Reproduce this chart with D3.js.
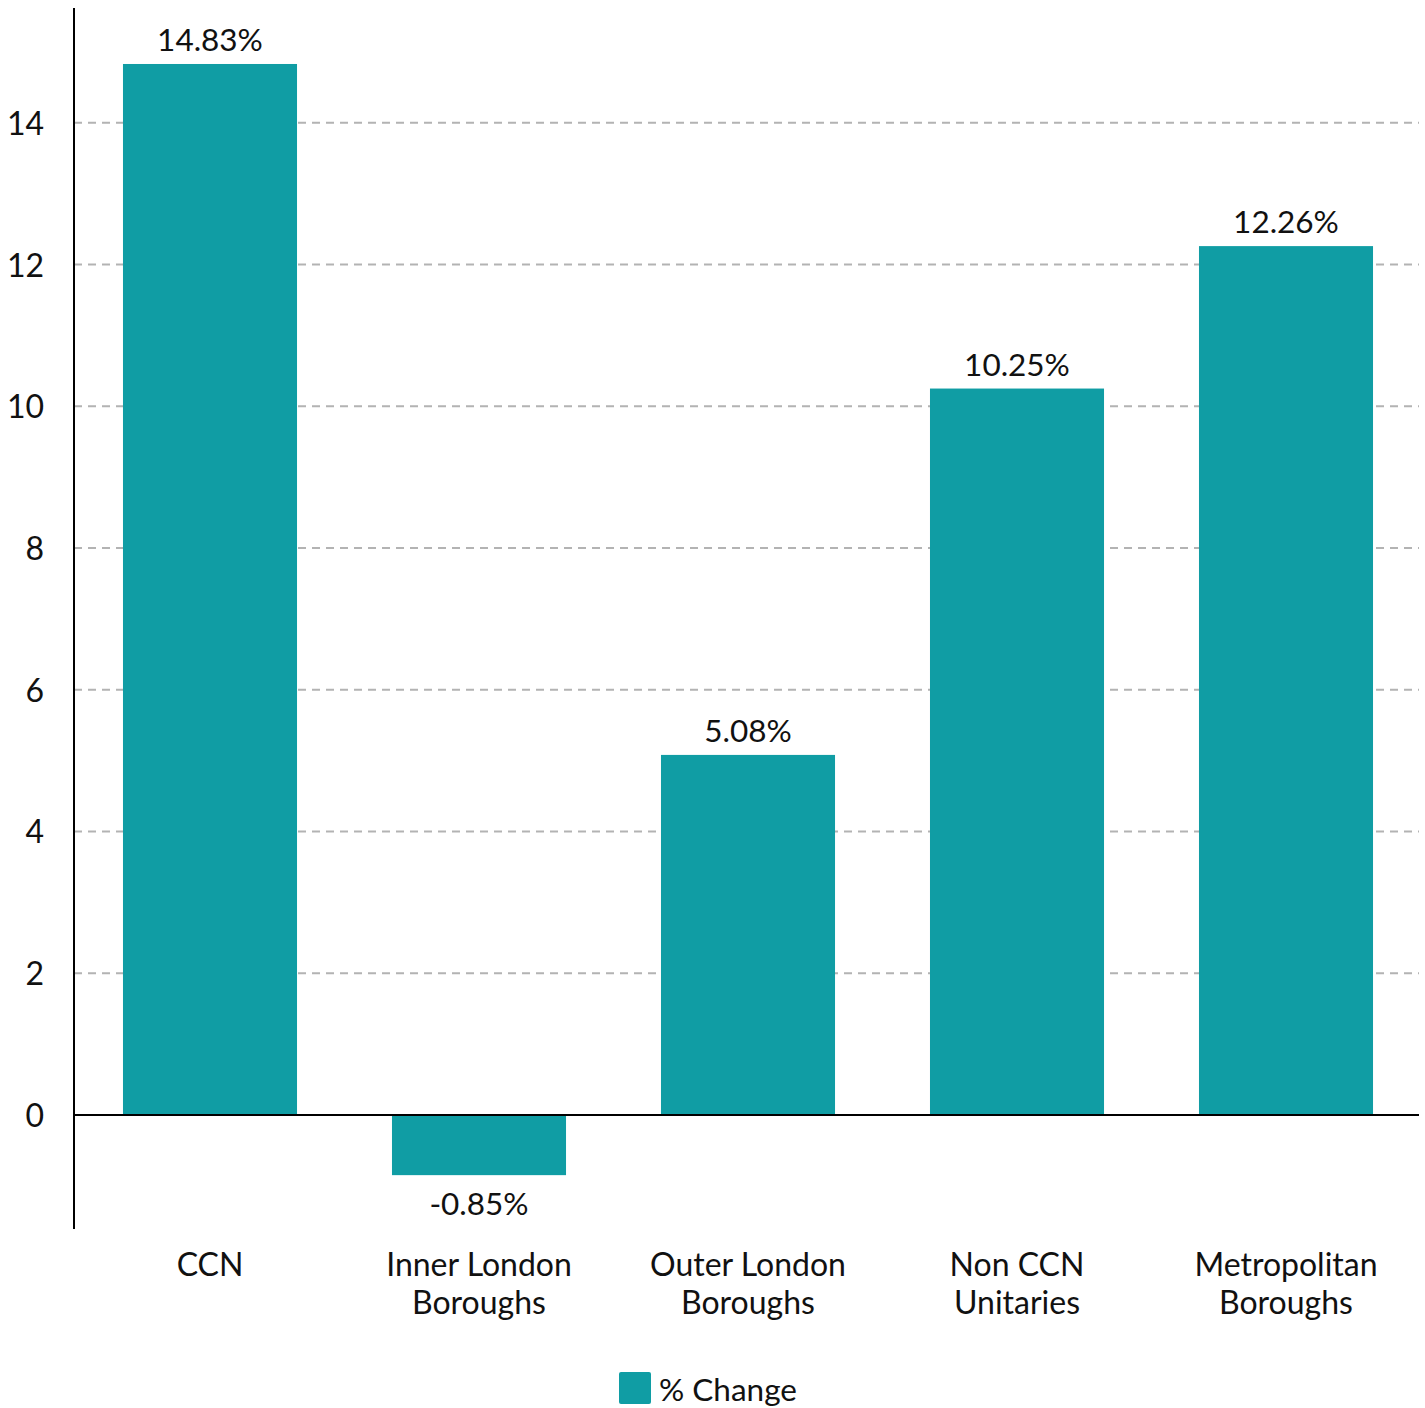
<!DOCTYPE html>
<html>
<head>
<meta charset="utf-8">
<script src="https://cdn.jsdelivr.net/npm/d3@7"></script>
<style>
  html, body { margin: 0; padding: 0; background: #fff; }
  svg { display: block; font-family: Lato, "Open Sans", sans-serif; }
</style>
</head>
<body>
<svg id="chart" width="1425" height="1408"></svg>
<script>
// Percentage change by authority type
const categories = [
  ["CCN"],
  ["Inner London", "Boroughs"],
  ["Outer London", "Boroughs"],
  ["Non CCN", "Unitaries"],
  ["Metropolitan", "Boroughs"]
];
const values = [14.83, -0.85, 5.08, 10.25, 12.26];
const yTicks = [0, 2, 4, 6, 8, 10, 12, 14];
const seriesName = "% Change";

const color = "#109da4";
const svg = d3.select("#chart");

const plotLeft = 74, plotRight = 1419, plotTop = 8, plotBottom = 1229;

const x = d3.scaleBand()
  .domain(d3.range(categories.length))
  .range([plotLeft + 1.5, plotRight + 1.5])
  .paddingInner(0.353)
  .paddingOuter(0.1765);

const y = d3.scaleLinear()
  .domain([-1.61, 15.62])
  .range([plotBottom, plotTop]);

// dashed gridlines
svg.append("g")
  .selectAll("line")
  .data(yTicks.filter(d => d !== 0))
  .join("line")
  .attr("x1", plotLeft).attr("x2", plotRight)
  .attr("y1", d => y(d)).attr("y2", d => y(d))
  .attr("stroke", "#b3b3b3")
  .attr("stroke-width", 2)
  .attr("stroke-dasharray", "8,6");

// y axis labels
const yAxis = d3.axisLeft(y).tickValues(yTicks).tickSize(0).tickPadding(30);
const gy = svg.append("g").attr("transform", `translate(${plotLeft},0)`).call(yAxis);
gy.select(".domain").remove();
gy.selectAll("text")
  .attr("font-size", 32)
  .attr("dy", "0.36em")
  .attr("fill", "#111")
  .attr("font-family", "Lato, sans-serif");

// bars
svg.append("g")
  .selectAll("rect")
  .data(values)
  .join("rect")
  .attr("x", (d, i) => x(i))
  .attr("width", x.bandwidth())
  .attr("y", d => y(Math.max(0, d)))
  .attr("height", d => Math.abs(y(d) - y(0)))
  .attr("fill", color);

// value labels
svg.append("g")
  .selectAll("text")
  .data(values)
  .join("text")
  .attr("x", (d, i) => x(i) + x.bandwidth() / 2)
  .attr("y", d => d >= 0 ? y(d) - 13 : y(d) + 40)
  .attr("text-anchor", "middle")
  .attr("font-size", 31.5)
  .attr("fill", "#111")
  .text(d => d.toFixed(2) + "%");

// axis lines
svg.append("line")
  .attr("x1", plotLeft).attr("x2", plotLeft)
  .attr("y1", plotTop).attr("y2", plotBottom)
  .attr("stroke", "#000").attr("stroke-width", 2);
svg.append("line")
  .attr("x1", plotLeft).attr("x2", plotRight)
  .attr("y1", y(0)).attr("y2", y(0))
  .attr("stroke", "#000").attr("stroke-width", 2);

// category labels
const cat = svg.append("g")
  .selectAll("text")
  .data(categories)
  .join("text")
  .attr("x", (d, i) => x(i) + x.bandwidth() / 2)
  .attr("y", 1276)
  .attr("text-anchor", "middle")
  .attr("font-size", 32)
  .attr("fill", "#111");
cat.selectAll("tspan")
  .data(d => d)
  .join("tspan")
  .attr("x", function () { return d3.select(this.parentNode).attr("x"); })
  .attr("dy", (d, i) => i === 0 ? 0 : 38)
  .text(d => d);

// legend
const legend = svg.append("g").attr("transform", "translate(619,1372)");
legend.append("rect")
  .attr("width", 32).attr("height", 32)
  .attr("rx", 2)
  .attr("fill", color);
legend.append("text")
  .attr("x", 40).attr("y", 29)
  .attr("font-size", 31.5)
  .attr("fill", "#111")
  .text(seriesName);
</script>
</body>
</html>
